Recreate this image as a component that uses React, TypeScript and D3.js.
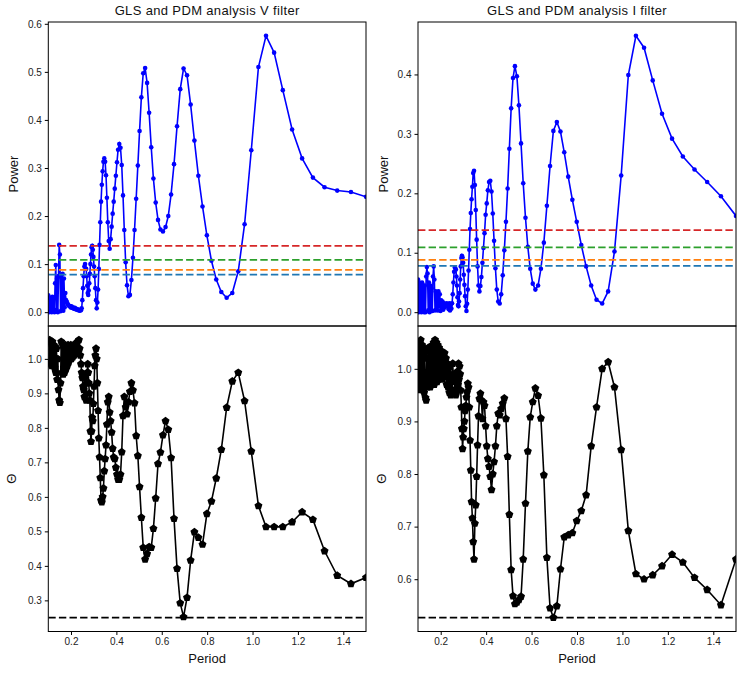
import React, { useEffect, useRef } from 'react';
import * as d3 from 'd3';

// Trial periods (days): a dense short-period stretch, then the coarse long-period grid
const periods = [
  0.100, 0.103, 0.106, 0.109, 0.112, 0.115, 0.118, 0.121, 0.124, 0.127,
  0.130, 0.133, 0.136, 0.139, 0.142, 0.145, 0.148, 0.151, 0.154, 0.157,
  0.160, 0.163, 0.166, 0.169, 0.172, 0.175, 0.178, 0.181, 0.184, 0.187,
  0.190, 0.193, 0.196, 0.199, 0.202, 0.205, 0.208, 0.211, 0.214, 0.217,
  0.220, 0.223, 0.226, 0.229, 0.232, 0.235, 0.238, 0.241, 0.244, 0.247,
  0.250, 0.253, 0.256, 0.259, 0.262,
  0.2669, 0.2691, 0.2714, 0.2737, 0.2760, 0.2783, 0.2807, 0.2832, 0.2857, 0.2882,
  0.2908, 0.2934, 0.2961, 0.2988, 0.3016, 0.3044, 0.3073, 0.3103, 0.3133, 0.3163,
  0.3194, 0.3226, 0.3258, 0.3291, 0.3325, 0.3359, 0.3395, 0.3430, 0.3467, 0.3504,
  0.3543, 0.3582, 0.3622, 0.3663, 0.3704, 0.3747, 0.3791, 0.3836, 0.3882, 0.3929,
  0.3977, 0.4026, 0.4076, 0.4128, 0.4182, 0.4236, 0.4292, 0.4349, 0.4409, 0.4469,
  0.4532, 0.4596, 0.4662, 0.4730, 0.4800, 0.4872, 0.4946, 0.5022, 0.5101, 0.5183,
  0.5267, 0.5354, 0.5443, 0.5536, 0.5632, 0.5732, 0.5835, 0.5941, 0.6052, 0.6167,
  0.6287, 0.6411, 0.6540, 0.6674, 0.6814, 0.6960, 0.7113, 0.7272, 0.7439, 0.7613,
  0.7796, 0.7988, 0.8189, 0.8401, 0.8624, 0.8860, 0.9108, 0.9371, 0.9650, 0.9945,
  1.0260, 1.0594, 1.0952, 1.1334, 1.1744, 1.2185, 1.2660, 1.3174, 1.3731, 1.4337,
  1.5000,
];

// GLS power, V filter
const powerV = [
  0.035, 0.0, 0.03, 0.002, 0.028, 0.0, 0.032, 0.003, 0.03, 0.0,
  0.06, 0.098, 0.005, 0.07, 0.0, 0.075, 0.14, 0.12, 0.002, 0.078,
  0.005, 0.08, 0.003, 0.07, 0.01, 0.04, 0.025, 0.022, 0.018, 0.016,
  0.014, 0.013, 0.012, 0.01, 0.012, 0.009, 0.01, 0.008, 0.007, 0.009,
  0.006, 0.007, 0.005, 0.006, 0.004, 0.005, 0.003, 0.004, 0.004, 0.008,
  0.025, 0.05, 0.075, 0.095, 0.1,
  0.09, 0.075, 0.055, 0.04, 0.036, 0.045, 0.06, 0.08, 0.1, 0.12,
  0.135, 0.138, 0.13, 0.115, 0.095, 0.075, 0.05, 0.025, 0.008, 0.02,
  0.047, 0.09, 0.14, 0.187, 0.23, 0.265, 0.293, 0.313, 0.32, 0.313,
  0.285, 0.238, 0.187, 0.148, 0.132, 0.152, 0.178, 0.205, 0.23, 0.257,
  0.284, 0.312, 0.338, 0.35, 0.342, 0.306, 0.243, 0.171, 0.104, 0.056,
  0.033, 0.036, 0.067, 0.113, 0.171, 0.236, 0.305, 0.377, 0.447, 0.497,
  0.508, 0.477, 0.415, 0.343, 0.278, 0.228, 0.192, 0.172, 0.168, 0.177,
  0.2, 0.245, 0.308, 0.387, 0.464, 0.507, 0.493, 0.432, 0.357, 0.284,
  0.22, 0.16, 0.107, 0.068, 0.042, 0.03, 0.04, 0.085, 0.183, 0.337,
  0.51, 0.575, 0.54, 0.462, 0.38, 0.32, 0.28, 0.26, 0.253, 0.25,
  0.24,
];

// GLS power, I filter
const powerI = [
  0.055, 0.0, 0.05, 0.002, 0.045, 0.0, 0.05, 0.005, 0.045, 0.0,
  0.045, 0.0, 0.06, 0.076, 0.065, 0.003, 0.05, 0.0, 0.045, 0.003,
  0.04, 0.002, 0.06, 0.077, 0.055, 0.003, 0.035, 0.004, 0.03, 0.003,
  0.035, 0.01, 0.03, 0.002, 0.02, 0.006, 0.018, 0.004, 0.015, 0.008,
  0.012, 0.01, 0.015, 0.01, 0.012, 0.005, 0.015, 0.003, 0.012, 0.006,
  0.015, 0.03, 0.05, 0.068, 0.075,
  0.072, 0.06, 0.045, 0.025, 0.012, 0.01, 0.018, 0.032, 0.055, 0.077,
  0.091, 0.095, 0.092, 0.083, 0.063, 0.046, 0.027, 0.01, 0.002, 0.014,
  0.038, 0.07, 0.105, 0.14, 0.167, 0.19, 0.211, 0.234, 0.238, 0.214,
  0.172, 0.122, 0.077, 0.045, 0.035, 0.044, 0.059, 0.083, 0.108, 0.133,
  0.164, 0.183, 0.205, 0.219, 0.221, 0.203, 0.166, 0.12, 0.074, 0.038,
  0.018, 0.0146, 0.03, 0.062, 0.104, 0.152, 0.208, 0.275, 0.343, 0.394,
  0.414, 0.397, 0.348, 0.284, 0.217, 0.159, 0.11, 0.073, 0.048, 0.038,
  0.045, 0.073, 0.117, 0.179, 0.246, 0.305, 0.32, 0.304, 0.269, 0.228,
  0.189, 0.152, 0.113, 0.077, 0.045, 0.021, 0.0146, 0.035, 0.102, 0.23,
  0.399, 0.465, 0.445, 0.39, 0.334, 0.292, 0.262, 0.24, 0.219, 0.195,
  0.162,
];

// PDM theta, V filter
const thetaV = [
  1.05, 0.985, 1.055, 0.99, 1.045, 0.98, 1.05, 0.99, 1.04, 0.975,
  1.035, 0.96, 1.03, 0.94, 1.0, 0.91, 0.88, 0.873, 0.93, 1.05,
  0.96, 1.04, 0.955, 1.03, 0.96, 1.04, 0.97, 1.035, 0.98, 1.04,
  0.99, 1.03, 1.0, 1.04, 1.0, 1.035, 1.005, 1.04, 1.01, 1.03,
  1.015, 1.04, 1.02, 1.05, 1.02, 1.055, 1.03, 1.01, 0.985, 0.96,
  0.945, 0.92, 0.91, 0.89, 0.95,
  0.88, 0.93, 0.96, 0.985, 0.96, 0.93, 0.9, 0.88, 0.79, 0.76,
  0.79, 0.83, 0.82, 0.87, 0.92, 0.98, 1.01, 1.03, 1.0, 0.93,
  0.85, 0.77, 0.715, 0.655, 0.59, 0.585, 0.6, 0.625, 0.675, 0.71,
  0.75, 0.81, 0.875, 0.89, 0.845, 0.82, 0.787, 0.74, 0.715, 0.71,
  0.685, 0.665, 0.65, 0.65, 0.665, 0.73, 0.835, 0.89, 0.86, 0.84,
  0.875, 0.905, 0.93, 0.909, 0.872, 0.777, 0.719, 0.629, 0.54, 0.453,
  0.419, 0.435, 0.455, 0.453, 0.508, 0.596, 0.696, 0.729, 0.779, 0.82,
  0.795, 0.713, 0.537, 0.392, 0.292, 0.252, 0.308, 0.416, 0.498, 0.482,
  0.462, 0.551, 0.587, 0.654, 0.737, 0.859, 0.935, 0.96, 0.878, 0.732,
  0.574, 0.513, 0.513, 0.513, 0.527, 0.556, 0.534, 0.443, 0.372, 0.348,
  0.366,
];

// PDM theta, I filter
const thetaI = [
  1.04, 0.965, 1.05, 0.96, 1.055, 0.97, 1.045, 0.96, 1.04, 0.955,
  1.03, 0.945, 0.94, 1.02, 0.965, 1.04, 0.97, 1.035, 0.965, 1.04,
  0.97, 1.045, 0.975, 1.05, 0.97, 1.055, 0.98, 1.05, 0.975, 1.045,
  0.98, 1.04, 0.985, 1.035, 0.99, 1.03, 0.98, 1.02, 0.99, 1.03,
  0.985, 1.02, 0.97, 1.01, 0.965, 1.0, 0.955, 0.99, 0.95, 0.985,
  0.96, 1.01, 0.975, 0.99, 0.96,
  0.95, 0.985, 0.96, 0.995, 0.97, 1.01, 0.98, 1.005, 0.99, 0.959,
  0.927, 0.886, 0.848, 0.87, 0.886, 0.9, 0.92, 0.93, 0.946, 0.956,
  0.972, 0.965, 0.927, 0.864, 0.807, 0.747, 0.716, 0.671, 0.638, 0.706,
  0.741, 0.795, 0.855, 0.91, 0.943, 0.953, 0.94, 0.905, 0.937, 0.93,
  0.891, 0.853, 0.829, 0.814, 0.795, 0.77, 0.8, 0.823, 0.853, 0.891,
  0.915, 0.912, 0.924, 0.934, 0.944, 0.905, 0.833, 0.723, 0.618, 0.568,
  0.553, 0.556, 0.561, 0.567, 0.638, 0.744, 0.843, 0.908, 0.937, 0.963,
  0.949, 0.906, 0.798, 0.641, 0.545, 0.527, 0.549, 0.619, 0.68, 0.684,
  0.688, 0.711, 0.73, 0.76, 0.853, 0.927, 1.0, 1.013, 0.965, 0.846,
  0.692, 0.61, 0.6, 0.608, 0.625, 0.647, 0.632, 0.603, 0.58, 0.551,
  0.638,
];

// False alarm levels and the PDM minimum for each filter
const fapLevels = [0.138, 0.109, 0.088, 0.078];
const fapColors = ['#d62728', '#2ca02c', '#ff7f0e', '#1f77b4'];
const thetaMinV = 0.25;
const thetaMinI = 0.527;

const periodTicks = [0.2, 0.4, 0.6, 0.8, 1.0, 1.2, 1.4];
const powerTicksV = [0.0, 0.1, 0.2, 0.3, 0.4, 0.5, 0.6];
const powerTicksI = [0.0, 0.1, 0.2, 0.3, 0.4];
const thetaTicksV = [0.3, 0.4, 0.5, 0.6, 0.7, 0.8, 0.9, 1.0];
const thetaTicksI = [0.6, 0.7, 0.8, 0.9, 1.0];
const titles = ['GLS and PDM analysis V filter', 'GLS and PDM analysis I filter'];

const FONT = '"Liberation Sans", Arial, Helvetica, sans-serif';

function pentagon(r: number) {
  const pts = d3.range(5).map(i => {
    const a = (-90 + 72 * i) * Math.PI / 180;
    return [r * Math.cos(a), r * Math.sin(a)];
  });
  return 'M' + pts.map(p => p.join(',')).join('L') + 'Z';
}

export default function App() {
  const svgRef = useRef<SVGSVGElement>(null);

  useEffect(() => {
    if (!svgRef.current) return;
    const svg = d3.select(svgRef.current);
    svg.selectAll('*').remove();

    const top = 22, mid = 326, bottom = 631.5;
    const columns = [
      { left: 48.3, right: 366, power: powerV, theta: thetaV, thetaMin: thetaMinV, pTicks: powerTicksV, tTicks: thetaTicksV },
      { left: 418, right: 736, power: powerI, theta: thetaI, thetaMin: thetaMinI, pTicks: powerTicksI, tTicks: thetaTicksI },
    ];
    const pad = (lo: number, hi: number) => [lo - 0.05 * (hi - lo), hi + 0.05 * (hi - lo)];
    const defs = svg.append('defs');

    columns.forEach((col, ci) => {
      const x = d3.scaleLinear().domain([0.1, 1.5]).range([col.left, col.right]);
      const yP = d3.scaleLinear()
        .domain(pad(d3.min(col.power)!, d3.max(col.power)!))
        .range([mid, top]);
      const yT = d3.scaleLinear()
        .domain(pad(Math.min(d3.min(col.theta)!, col.thetaMin), d3.max(col.theta)!))
        .range([bottom, mid]);

      const pts = periods.map((p, i) => ({ p, power: col.power[i], theta: col.theta[i] }));

      // clip regions
      ['top', 'bot'].forEach(k => {
        defs.append('clipPath').attr('id', `clip-${k}-${ci}`)
          .append('rect')
          .attr('x', col.left).attr('width', col.right - col.left)
          .attr('y', k === 'top' ? top : mid)
          .attr('height', k === 'top' ? mid - top : bottom - mid);
      });

      // GLS panel
      const gTop = svg.append('g').attr('clip-path', `url(#clip-top-${ci})`);
      gTop.append('path')
        .datum(pts)
        .attr('d', d3.line<typeof pts[0]>().x(d => x(d.p)).y(d => yP(d.power)))
        .attr('fill', 'none')
        .attr('stroke', '#0000ff')
        .attr('stroke-width', 1.6);
      gTop.selectAll('circle')
        .data(pts)
        .enter()
        .append('circle')
        .attr('cx', d => x(d.p))
        .attr('cy', d => yP(d.power))
        .attr('r', 2.3)
        .attr('fill', '#0000ff');
      gTop.selectAll('line.fap')
        .data(fapLevels)
        .enter()
        .append('line')
        .attr('class', 'fap')
        .attr('x1', col.left).attr('x2', col.right)
        .attr('y1', d => yP(d)).attr('y2', d => yP(d))
        .attr('stroke', (d, i) => fapColors[i])
        .attr('stroke-width', 1.7)
        .attr('stroke-dasharray', '7.4,3.2');

      // PDM panel
      const gBot = svg.append('g').attr('clip-path', `url(#clip-bot-${ci})`);
      gBot.append('path')
        .datum(pts)
        .attr('d', d3.line<typeof pts[0]>().x(d => x(d.p)).y(d => yT(d.theta)))
        .attr('fill', 'none')
        .attr('stroke', '#000')
        .attr('stroke-width', 1.6);
      const pent = pentagon(4.2);
      gBot.selectAll('path.pent')
        .data(pts)
        .enter()
        .append('path')
        .attr('class', 'pent')
        .attr('d', pent)
        .attr('transform', d => `translate(${x(d.p)},${yT(d.theta)})`)
        .attr('fill', '#000');
      gBot.append('line')
        .attr('x1', col.left).attr('x2', col.right)
        .attr('y1', yT(col.thetaMin)).attr('y2', yT(col.thetaMin))
        .attr('stroke', '#000')
        .attr('stroke-width', 1.7)
        .attr('stroke-dasharray', '7.4,3.2');

      // frames
      [[top, mid], [mid, bottom]].forEach(([a, b]) => {
        svg.append('rect')
          .attr('x', col.left).attr('y', a)
          .attr('width', col.right - col.left).attr('height', b - a)
          .attr('fill', 'none').attr('stroke', '#000').attr('stroke-width', 1);
      });

      // axes
      const styleAxis = (g: d3.Selection<SVGGElement, unknown, null, undefined>) => {
        g.select('.domain').remove();
        g.selectAll('line').attr('stroke', '#000').attr('stroke-width', 1);
        g.selectAll('text')
          .style('font-family', FONT)
          .style('font-size', '10px')
          .attr('fill', '#222');
      };
      svg.append('g')
        .attr('transform', `translate(${col.left},0)`)
        .call(d3.axisLeft(yP).tickValues(col.pTicks).tickFormat(d3.format('.1f')).tickSize(3.5).tickPadding(3))
        .call(styleAxis);
      svg.append('g')
        .attr('transform', `translate(${col.left},0)`)
        .call(d3.axisLeft(yT).tickValues(col.tTicks).tickFormat(d3.format('.1f')).tickSize(3.5).tickPadding(3))
        .call(styleAxis);
      svg.append('g')
        .attr('transform', `translate(0,${bottom})`)
        .call(d3.axisBottom(x).tickValues(periodTicks).tickFormat(d3.format('.1f')).tickSize(3.5).tickPadding(3))
        .call(styleAxis);

      const cx = (col.left + col.right) / 2;
      svg.append('text')
        .attr('x', cx).attr('y', 15)
        .attr('text-anchor', 'middle')
        .style('font-family', FONT).style('font-size', '13px')
        .style('letter-spacing', '0.35px')
        .attr('fill', '#111')
        .text(titles[ci]);
      svg.append('text')
        .attr('x', cx).attr('y', 663)
        .attr('text-anchor', 'middle')
        .style('font-family', FONT).style('font-size', '13px')
        .attr('fill', '#111')
        .text('Period');
      svg.append('text')
        .attr('transform', `translate(${col.left - 30},${(top + mid) / 2}) rotate(-90)`)
        .attr('text-anchor', 'middle')
        .style('font-family', FONT).style('font-size', '13px')
        .attr('fill', '#111')
        .text('Power');
      svg.append('text')
        .attr('transform', `translate(${col.left - 32},${(mid + bottom) / 2}) rotate(-90)`)
        .attr('text-anchor', 'middle')
        .style('font-family', FONT).style('font-size', '13px')
        .attr('fill', '#111')
        .text('Θ');
    });
  }, []);

  return (
    <svg
      ref={svgRef}
      width={747}
      height={673}
      style={{ position: 'absolute', left: 0, top: 0, background: '#fff' }}
    />
  );
}
